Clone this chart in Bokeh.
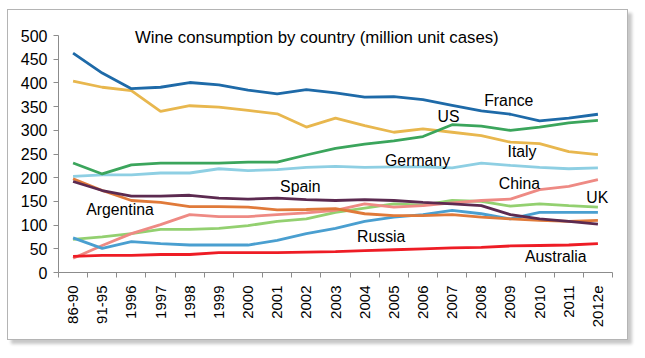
import math
from bokeh.plotting import figure
from bokeh.models import Range1d, FixedTicker, Label
from bokeh.embed import file_html
from bokeh.resources import INLINE

categories = ["86-90", "91-95", "1996", "1997", "1998", "1999", "2000", "2001", "2002",
              "2003", "2004", "2005", "2006", "2007", "2008", "2009", "2010", "2011", "2012e"]

france    = [463, 421, 388, 391, 401, 396, 385, 377, 386, 379, 370, 371, 365, 353, 341, 334, 320, 326, 334]
italy     = [404, 391, 384, 340, 352, 349, 342, 335, 307, 326, 310, 296, 303, 296, 289, 275, 272, 255, 249]
us        = [231, 208, 227, 231, 231, 231, 233, 233, 248, 262, 271, 278, 287, 312, 309, 300, 307, 316, 321]
germany   = [203, 206, 206, 210, 210, 219, 215, 217, 222, 224, 222, 223, 223, 221, 231, 226, 222, 219, 221]
spain     = [192, 173, 161, 161, 163, 157, 155, 157, 154, 152, 154, 152, 148, 145, 141, 122, 113, 108, 102]
argentina = [198, 173, 152, 148, 139, 139, 138, 132, 133, 135, 124, 120, 120, 122, 117, 113, 110, 108, 110]
china     = [30, 57, 82, 101, 122, 118, 118, 122, 126, 131, 145, 138, 141, 147, 152, 155, 175, 182, 196]
uk        = [70, 75, 82, 91, 91, 93, 99, 108, 113, 127, 136, 145, 142, 152, 150, 140, 145, 141, 138]
russia    = [73, 51, 65, 61, 58, 58, 58, 68, 82, 93, 108, 117, 122, 131, 124, 113, 127, 127, 127]
australia = [34, 36, 36, 38, 38, 42, 42, 42, 43, 44, 46, 48, 50, 52, 53, 56, 57, 58, 61]

y_ticks = [0, 50, 100, 150, 200, 250, 300, 350, 400, 450, 500]

series = [
    ("Germany", germany, "#8ECFE3"),
    ("UK", uk, "#93D070"),
    ("China", china, "#EE8A84"),
    ("Russia", russia, "#4A9FD0"),
    ("Argentina", argentina, "#E07A3A"),
    ("Spain", spain, "#5C2A50"),
    ("Italy", italy, "#E8B74E"),
    ("US", us, "#3BA55C"),
    ("France", france, "#1E6AA8"),
    ("Australia", australia, "#EE1C25"),
]

# label positions: (x index, y value)
label_pos = {
    "France": (14.1, 363), "US": (12.5, 329), "Italy": (14.9, 255), "Germany": (10.7, 236),
    "China": (14.6, 188), "UK": (17.6, 159), "Spain": (7.1, 181), "Argentina": (0.45, 133),
    "Russia": (9.74, 77), "Australia": (15.5, 34),
}

FONT = "Liberation Sans"

p = figure(width=621, height=331, output_backend="svg", toolbar_location=None,
           x_range=Range1d(-0.5, len(categories) - 0.5), y_range=Range1d(0, 515),
           min_border_left=50, min_border_right=17, min_border_top=18, min_border_bottom=69)
p.styles = {"border": "1px solid #b4b4b4", "box-shadow": "4px 4px 3px #c8c8c8",
            "margin-left": "7px", "margin-top": "9px"}
p.outline_line_color = None
p.xgrid.visible = False
p.ygrid.visible = False
p.background_fill_color = "white"
p.border_fill_color = "white"

xs = list(range(len(categories)))
for name, vals, col in series:
    p.line(xs, vals, line_color=col, line_width=2.8)

for name, (lx, ly) in label_pos.items():
    p.add_layout(Label(x=lx, y=ly, text=name, text_font=FONT, text_font_size="15.8px",
                       text_color="black", text_baseline="middle", text_align="left"))

p.add_layout(Label(x=8.36, y=496, text="Wine consumption by country (million unit cases)",
                   text_font=FONT, text_font_size="16.8px", text_color="black",
                   text_baseline="middle", text_align="center"))

xa = p.xaxis[0]
xa.ticker = FixedTicker(ticks=xs, minor_ticks=[i - 0.5 for i in range(len(categories) + 1)])
xa.major_label_overrides = {i: c for i, c in enumerate(categories)}
xa.major_label_orientation = math.pi / 2
xa.major_tick_out = 0
xa.major_tick_in = 0
xa.minor_tick_out = 5
xa.minor_tick_in = 0
xa.axis_line_color = "#8c8c8c"
xa.minor_tick_line_color = "#8c8c8c"
xa.major_label_text_font = FONT
xa.major_label_text_font_size = "15px"
xa.major_label_text_color = "black"
xa.major_label_standoff = 8

ya = p.yaxis[0]
ya.ticker = FixedTicker(ticks=y_ticks)
ya.bounds = (0, 500)
ya.major_tick_out = 5
ya.major_tick_in = 0
ya.minor_tick_line_color = None
ya.axis_line_color = "#8c8c8c"
ya.major_tick_line_color = "#8c8c8c"
ya.major_label_text_font = FONT
ya.major_label_text_font_size = "16px"
ya.major_label_text_color = "black"
ya.major_label_standoff = 6

open("out.html", "w").write(file_html(p, INLINE))
